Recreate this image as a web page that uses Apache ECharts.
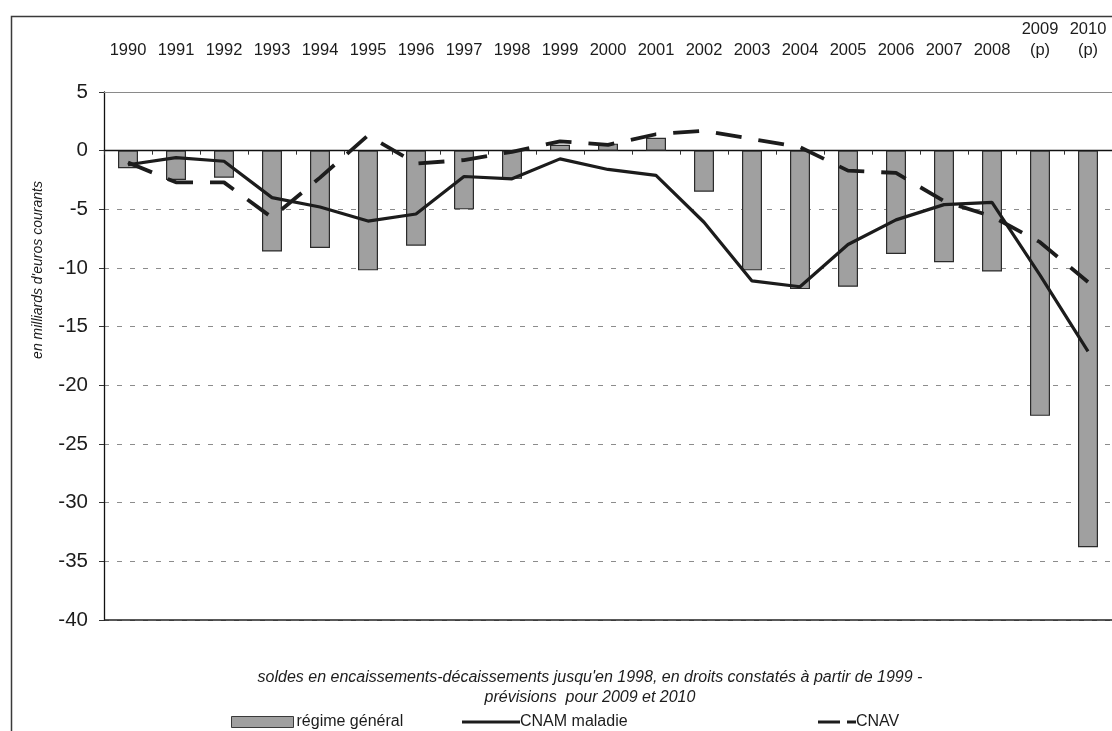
<!DOCTYPE html>
<html>
<head>
<meta charset="utf-8">
<script src="https://cdn.jsdelivr.net/npm/echarts@6/dist/echarts.min.js"></script>
<style>
  html, body { margin: 0; padding: 0; background: #fff; }
  #chart { width: 1112px; height: 731px; }
</style>
</head>
<body>
<div id="chart"></div>
<script>
// Soldes du régime général, de la CNAM maladie et de la CNAV (Md€ courants)
const years = ['1990', '1991', '1992', '1993', '1994', '1995', '1996', '1997', '1998', '1999',
  '2000', '2001', '2002', '2003', '2004', '2005', '2006', '2007', '2008', '2009\n(p)', '2010\n(p)'];

const regimeGeneral = [-1.5, -2.5, -2.3, -8.6, -8.3, -10.2, -8.1, -5.0, -2.4, 0.5,
  0.6, 1.1, -3.5, -10.2, -11.8, -11.6, -8.8, -9.5, -10.3, -22.6, -33.8];

const cnamMaladie = [-1.2, -0.6, -0.9, -4.0, -4.8, -6.0, -5.4, -2.2, -2.4, -0.7,
  -1.6, -2.1, -6.1, -11.1, -11.6, -8.0, -5.9, -4.6, -4.4, -10.6, -17.1];

const cnav = [-1.0, -2.7, -2.7, -5.7, -2.3, 1.3, -1.1, -0.8, -0.1, 0.8,
  0.5, 1.4, 1.7, 1.0, 0.3, -1.7, -1.9, -4.3, -5.6, -7.8, -11.2];

const yTicks = { min: -40, max: 5, step: 5 };

const seriesNames = ['régime général', 'CNAM maladie', 'CNAV'];
const axisName = "en milliards d'euros courants";
const noteLines = [
  "soldes en encaissements-décaissements jusqu'en 1998, en droits constatés à partir de 1999 -",
  'prévisions  pour 2009 et 2010'
];

const FONT = '"Liberation Sans", Arial, sans-serif';
const INK = '#1c1c1c';

// legend glyphs: plain stroke for the solid line, long + short dash for the dashed one
const solidIcon = 'path://M0,0H60V3H0Z';
const dashIcon = 'path://M0,0H22V3H0Z M29,0H38V3H29Z';

const chart = echarts.init(document.getElementById('chart'), null, { renderer: 'canvas' });

chart.setOption({
  animation: false,
  backgroundColor: '#fff',
  textStyle: { fontFamily: FONT, color: INK },
  grid: { left: 104, right: 0, top: 92, bottom: 111, containLabel: false },
  legend: [
    {
      data: [{ name: seriesNames[0], icon: 'rect' }], left: 226, top: 709,
      itemWidth: 62, itemHeight: 11, itemGap: 4,
      itemStyle: { color: '#a0a0a0', borderColor: '#3a3a3a', borderWidth: 1 },
      textStyle: { fontFamily: FONT, fontSize: 16, color: INK, padding: [0, 0, 0, -2] }
    },
    {
      data: [{ name: seriesNames[1], icon: solidIcon }], left: 457, top: 709,
      itemWidth: 58, itemHeight: 3, itemGap: 2,
      textStyle: { fontFamily: FONT, fontSize: 16, color: INK, padding: [0, 0, 0, -5] }
    },
    {
      data: [{ name: seriesNames[2], icon: dashIcon }], left: 813, top: 709,
      itemWidth: 38, itemHeight: 3, itemGap: 2,
      textStyle: { fontFamily: FONT, fontSize: 16, color: INK, padding: [0, 0, 0, -5] }
    }
  ],
  xAxis: [
    {
      // axis drawn on the zero line, with tick marks between years
      type: 'category',
      data: years,
      position: 'bottom',
      boundaryGap: true,
      axisLine: { show: true, onZero: true, lineStyle: { color: '#111', width: 1.3 } },
      axisTick: { show: true, length: 4, lineStyle: { color: '#333' } },
      axisLabel: { show: false },
      splitLine: { show: false }
    },
    {
      // year labels along the top border
      type: 'category',
      data: years,
      position: 'top',
      boundaryGap: true,
      axisLine: { show: true, onZero: false, lineStyle: { color: '#8a8a8a', width: 1.2 } },
      axisTick: { show: false },
      axisLabel: {
        show: true, interval: 0, margin: 31, fontSize: 16.5, color: INK,
        fontFamily: FONT, lineHeight: 21, align: 'center'
      },
      splitLine: { show: false }
    }
  ],
  yAxis: {
    type: 'value',
    min: yTicks.min,
    max: yTicks.max,
    interval: yTicks.step,
    axisLine: { show: true, onZero: false, lineStyle: { color: '#111', width: 1.3 } },
    axisTick: { show: true, length: 5, lineStyle: { color: '#333' } },
    axisLabel: { fontSize: 20.5, color: INK, fontFamily: FONT, margin: 16 },
    splitLine: { show: true, lineStyle: { color: '#8c8c8c', type: [5, 8], width: 1.2 } }
  },
  series: [
    {
      name: seriesNames[0],
      type: 'bar',
      xAxisIndex: 0,
      data: regimeGeneral,
      barWidth: 20,
      itemStyle: { color: '#a0a0a0', borderColor: '#2b2b2b', borderWidth: 1.2 },
      z: 2,
      markLine: {
        silent: true,
        symbol: ['none', 'none'],
        label: { show: false },
        data: [
          { yAxis: yTicks.min, lineStyle: { color: '#222', width: 1.6, type: 'solid' } }
        ]
      }
    },
    {
      name: seriesNames[1],
      type: 'line',
      xAxisIndex: 0,
      data: cnamMaladie,
      symbol: 'none',
      lineStyle: { color: INK, width: 3.2, type: 'solid' },
      itemStyle: { color: INK },
      z: 4
    },
    {
      name: seriesNames[2],
      type: 'line',
      xAxisIndex: 0,
      data: cnav,
      symbol: 'none',
      lineStyle: { color: INK, width: 3.8, type: [26, 17] },
      itemStyle: { color: INK },
      z: 5
    }
  ],
  graphic: [
    {
      type: 'rect',
      left: 9, top: 14,
      shape: { width: 1200, height: 800 },
      style: { fill: 'none', stroke: '#3a3a3a', lineWidth: 1.5 },
      z: -10, silent: true
    },
    {
      // y-axis title, rotated
      type: 'text',
      x: 38, y: 270,
      rotation: Math.PI / 2,
      style: {
        text: axisName, fontFamily: FONT, fontSize: 14, fontStyle: 'italic',
        fill: INK, align: 'center', verticalAlign: 'middle'
      }
    },
    {
      type: 'text',
      x: 590, y: 678,
      style: {
        text: noteLines[0], fontFamily: FONT, fontSize: 16, fontStyle: 'italic',
        fill: INK, align: 'center', verticalAlign: 'middle'
      }
    },
    {
      type: 'text',
      x: 590, y: 698,
      style: {
        text: noteLines[1], fontFamily: FONT, fontSize: 16, fontStyle: 'italic',
        fill: INK, align: 'center', verticalAlign: 'middle'
      }
    }
  ]
});
</script>
</body>
</html>
